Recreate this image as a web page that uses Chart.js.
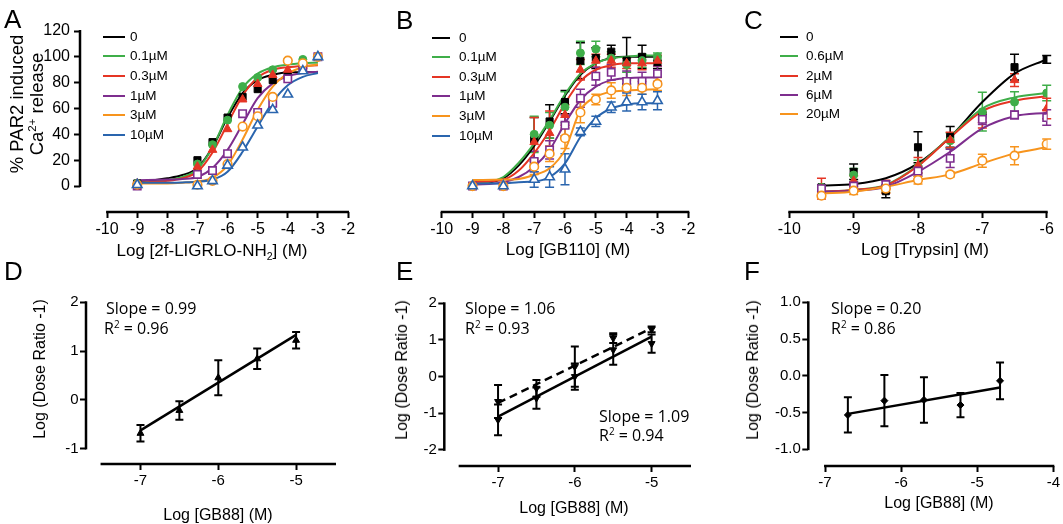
<!DOCTYPE html>
<html>
<head>
<meta charset="utf-8">
<script src="https://cdn.jsdelivr.net/npm/chart.js@4.4.0/dist/chart.umd.min.js"></script>
<style>
  body { margin: 0; background: #fff; }
  #fig { position: relative; width: 1063px; height: 524px; overflow: hidden; background: #fff;
         font-family: "Liberation Sans", Arial, sans-serif; color: #000; }
  #fig canvas { position: absolute; }
  .t { position: absolute; white-space: nowrap; line-height: 1; }
  .letter { font-size: 26px; }
  .ttl { font-size: 17px; }
  .ttl2 { font-size: 16px; }
  .ann { font-family: "Open Sans", sans-serif; font-size: 16px; }
  .leg { font-size: 13.5px; }
  .legline { position: absolute; height: 2px; }
  sup, sub { font-size: 0.62em; line-height: 0; }
</style>
</head>
<body>
<div id="fig"></div>
<script>
// ---------- data ----------

// A: 2f-LIGRLO-NH2 response curves
const legendA = ['0', '0.1µM', '0.3µM', '1µM', '3µM', '10µM'];
const doseA = [-9, -7, -6.5, -6, -5.5, -5, -4.5, -4, -3.5, -3];
const respA0  = [2, 20, 34, 53, 69, 75, 82, 85, 90, 100];
const respA01 = [2, 17, 32, 51, 77, 84, 90, 97, 98, 100];
const respA03 = [2, 15, 28, 44, 67, 79, 86, 90, 93, 100];
const respA1  = [0, 9, 12, 25, 56, 57, 64, 83, 91, 100];
const respA3  = [1, 1, 4, 17, 46, 54, 69, 97, 95, 100];
const respA10 = [1, 0, 4, 16, 30, 47, 59, 71, 89, 100];
const fitDoseA = [-9, -8, -7.5, -7, -6.5, -6, -5.5, -5, -4.5, -4, -3.5, -3];
const fitA0  = [3, 6, 8.5, 14, 30, 53, 72, 82, 86, 88, 88, 88];
const fitA01 = [2.5, 4.5, 7, 13, 30, 55, 76, 87, 92, 94, 95, 95.5];
const fitA03 = [2.5, 4, 6, 11, 26, 48, 70, 84, 90, 92, 93, 93.5];
const fitA1  = [4.5, 5, 5.5, 7, 14, 28, 48, 68, 79.5, 85, 87.5, 88.5];
const fitA3  = [2, 2, 2.5, 3.5, 6.5, 16, 36, 59, 77, 87, 92, 94];
const fitA10 = [2.5, 2.6, 2.8, 3.3, 5, 11, 26.5, 46, 65, 78, 84.5, 87.5];

// B: GB110 response curves
const legendB = ['0', '0.1µM', '0.3µM', '1µM', '3µM', '10µM'];
const doseB = [-9, -8, -7, -6.5, -6, -5.5, -5, -4.5, -4, -3.5, -3];
const respB0  = [0, 0, 36, 50, 65, 97, 99, 104, 97, 100, 96];
const respB01 = [0, 0, 40, 47, 61, 103, 106, 99, 94, 97, 100];
const respB03 = [0, 0, 34, 41, 55, 90, 97, 97, 95, 95, 97];
const respB1  = [0, 0, 19, 28, 47, 68, 85, 88, 81, 81, 87];
const respB3  = [0, 0, 15, 25, 37, 57, 67, 74, 76, 76, 79];
const respB10 = [0, 0, 5, 7, 13, 42, 50, 61, 65, 65, 66];
const errB0  = [0, 0, 17, 13, 9, 14, 8, 5, 18, 9, 5];
const errB01 = [0, 0, 14, 10, 12, 9, 6, 5, 6, 5, 3];
const errB03 = [0, 0, 19, 17, 8, 8, 5, 5, 4, 5, 4];
const errB1  = [0, 0, 8, 7, 8, 7, 7, 6, 8, 7, 6];
const errB3  = [0, 0, 6, 6, 8, 8, 4, 6, 6, 5, 5];
const errB10 = [0, 0, 6, 8, 12, 3, 4, 4, 7, 6, 7];
const fitDoseB = [-9, -8, -7.5, -7, -6.5, -6, -5.5, -5, -4.5, -4, -3.5, -3];
const fitB0  = [1, 6, 16, 31, 50, 70, 86, 95, 99, 100, 100, 100];
const fitB01 = [1, 7, 18, 33, 51, 71, 87, 95, 99, 100, 101, 101];
const fitB03 = [3, 5, 12, 25.5, 43, 64, 81, 90, 93.5, 95, 95, 95];
const fitB1  = [1, 3, 7, 15, 28, 48.5, 66.6, 77, 82, 83.5, 84, 84];
const fitB3  = [4.6, 5, 5.5, 8.5, 13.7, 28, 58.8, 69, 73, 74, 74.5, 75];
const fitB10 = [2, 2, 3, 3.5, 7, 17.6, 38, 52.6, 60, 63, 64, 64];

// C: trypsin response curves
const legendC = ['0', '0.6µM', '2µM', '6µM', '20µM'];
const doseC = [-9.5, -9, -8.5, -8, -7.5, -7, -6.5, -6];
const respC0  = [-1, 11, -4, 30, 38, 55, 92, 98];
const respC06 = [-1, 8.5, -2, 15, 35, 57.5, 65, 72];
const respC2  = [-2, 4, -0.5, 16, 35.6, 51, 82, 60];
const respC6  = [-2, 0, 1, 11.6, 21.4, 51.6, 55, 53];
const respC20 = [-7.5, -3.6, -2, 4.6, 9, 19.6, 23.5, 32.5];
const errC0  = [0, 6, 5, 12, 8, 0, 10, 3];
const errC06 = [0, 5, 3, 5, 6, 15, 8, 6];
const errC2  = [8, 4, 5, 6, 6, 6, 5, 8];
const errC6  = [3, 3, 3, 4, 7, 4, 3, 6];
const errC20 = [2, 3, 3, 3, 2, 5, 7, 4];
const fitDoseC = [-9.5, -9, -8.5, -8, -7.5, -7, -6.5, -6];
const fitC0  = [0.3, 1.5, 6, 17.5, 38, 65, 87, 98];
const fitC06 = [-4.4, -3, 0.8, 16, 38, 60, 68.6, 72];
const fitC2  = [-4.5, -3, 0.5, 15.5, 37.5, 58, 66, 69.5];
const fitC6  = [-4.4, -3.6, -0.5, 11, 26.5, 44.6, 54, 56.7];
const fitC20 = [-5.6, -4.4, -0.5, 4.6, 9, 17.5, 25.3, 30];

// D, E, F: Schild-type plots
const doseD = [-7, -6.5, -6, -5.5, -5];
const ratioD = [-0.69, -0.22, 0.45, 0.84, 1.22];
const errD = [0.17, 0.19, 0.36, 0.21, 0.17];
const lineXD = [-7, -5];
const lineYD = [-0.63, 1.33];

const doseE = [-7, -6.5, -6, -5.5, -5];
const ratioE1 = [-0.68, -0.32, 0.27, 1.05, 1.29];   // dashed fit
const errE1 = [0.45, 0.23, 0.55, 0.13, 0.08];
const ratioE2 = [-1.18, -0.59, 0.0, 0.73, 0.9];     // solid fit
const errE2 = [0.42, 0.29, 0.36, 0.41, 0.25];
const lineXE = [-7, -5];
const lineYE1 = [-0.72, 1.32];
const lineYE2 = [-1.09, 1.09];

const doseF = [-6.7, -6.22, -5.7, -5.22, -4.7];
const ratioF = [-0.535, -0.34, -0.33, -0.4, -0.07];
const errF = [0.24, 0.35, 0.31, 0.165, 0.25];
const lineXF = [-6.7, -4.7];
const lineYF = [-0.52, -0.16];

// tick labels
const ticksTopY = [0, 20, 40, 60, 80, 100, 120];
const ticksAB_X = [-10, -9, -8, -7, -6, -5, -4, -3, -2];
const ticksC_X = [-10, -9, -8, -7, -6];
const ticksDE_X = [-7, -6, -5];
const ticksD_Y = [-1, 0, 1, 2];
const ticksE_Y = [-2, -1, 0, 1, 2];
const ticksF_X = [-7, -6, -5, -4];
const ticksF_Y = [-1, -0.5, 0, 0.5, 1];

// ---------- styles ----------
const colors6 = ['#000000', '#3fae49', '#e53524', '#7e2e8e', '#f7941d', '#2a65ae'];
const marks6 = [
  { s: 'rect', r: 5, open: false },
  { s: 'circle', r: 4, open: false },
  { s: 'triangle', r: 5, open: false },
  { s: 'rect', r: 5.2, open: true },
  { s: 'circle', r: 4.3, open: true },
  { s: 'triangle', r: 5.5, open: true }
];

const fig = document.getElementById('fig');
Chart.defaults.font.family = '"Liberation Sans", Arial, sans-serif';
Chart.defaults.color = '#000';

function pts(xs, ys) { return xs.map((x, i) => ({ x: x, y: ys[i] })); }

// axis lines that stop at the first and last tick, like the original
const axisLines = {
  id: 'axisLines',
  afterDraw(chart, args, o) {
    const ctx = chart.ctx, a = chart.chartArea, sx = chart.scales.x, sy = chart.scales.y;
    ctx.save();
    ctx.strokeStyle = '#000';
    ctx.lineWidth = o.w;
    if (o.x) {
      ctx.beginPath();
      ctx.moveTo(sx.getPixelForValue(o.x[0]) - 1, a.bottom);
      ctx.lineTo(sx.getPixelForValue(o.x[1]) + 1, a.bottom);
      ctx.stroke();
    }
    if (o.y) {
      ctx.beginPath();
      ctx.moveTo(a.left, sy.getPixelForValue(o.y[0]) + 1);
      ctx.lineTo(a.left, sy.getPixelForValue(o.y[1]) - 1);
      ctx.stroke();
    }
    ctx.restore();
  }
};

// error bars from dataset.errors
const errorBars = {
  id: 'errorBars',
  beforeDatasetsDraw(chart, args, o) {
    const ctx = chart.ctx, sy = chart.scales.y;
    ctx.save();
    ctx.lineWidth = o.w;
    chart.data.datasets.forEach((ds, i) => {
      if (!ds.errors) return;
      const meta = chart.getDatasetMeta(i);
      ctx.strokeStyle = ds.borderColor;
      meta.data.forEach((el, j) => {
        const e = ds.errors[j];
        if (!e) return;
        const v = ds.data[j].y;
        const y1 = sy.getPixelForValue(v + e), y2 = sy.getPixelForValue(v - e);
        ctx.beginPath();
        ctx.moveTo(el.x, y1); ctx.lineTo(el.x, y2);
        ctx.moveTo(el.x - o.cap, y1); ctx.lineTo(el.x + o.cap, y1);
        ctx.moveTo(el.x - o.cap, y2); ctx.lineTo(el.x + o.cap, y2);
        ctx.stroke();
      });
    });
    ctx.restore();
  }
};

// later series are drawn on top, as in the original
function curveSets(dose, resps, errs, fitDose, fits, cols, marks) {
  const sets = [];
  resps.forEach((r, i) => {
    const m = marks[i];
    sets.push({
      data: pts(dose, r), showLine: false, order: 10 - i,
      pointStyle: m.s, pointRadius: m.r, borderWidth: m.open ? 1.6 : 1,
      borderColor: cols[i], backgroundColor: m.open ? '#ffffff' : cols[i],
      errors: errs ? errs[i] : null
    });
    sets.push({
      data: pts(fitDose, fits[i]), showLine: true, order: 30 - i, pointRadius: 0,
      borderColor: cols[i], borderWidth: 2, cubicInterpolationMode: 'monotone'
    });
  });
  return sets;
}

function panel(box, area, c) {
  const cv = document.createElement('canvas');
  cv.width = box.w; cv.height = box.h;
  cv.style.left = box.x + 'px'; cv.style.top = box.y + 'px';
  fig.appendChild(cv);
  const tickFont = { size: c.fs };
  new Chart(cv, {
    type: 'scatter',
    data: { datasets: c.datasets },
    options: {
      responsive: false, animation: false, events: [],
      layout: { padding: { left: 0, top: area.t - box.y, right: box.x + box.w - area.r, bottom: 0 } },
      plugins: {
        legend: { display: false }, tooltip: { enabled: false },
        axisLines: { x: c.xLine, y: c.yLine, w: 2.5 },
        errorBars: { w: c.ew, cap: c.cap }
      },
      scales: {
        x: {
          type: 'linear', min: c.xr[0], max: c.xr[1],
          afterBuildTicks: s => { s.ticks = c.xTicks.map(v => ({ value: v })); },
          afterFit: s => { s.height = box.y + box.h - area.b; },
          ticks: { font: tickFont, padding: c.xpad, maxRotation: 0, minRotation: 0, autoSkip: false,
                   callback: v => String(v) },
          grid: { drawOnChartArea: false, drawTicks: true, tickLength: 6, tickWidth: 2, tickColor: '#000' },
          border: { display: false }
        },
        y: {
          type: 'linear', min: c.yr[0], max: c.yr[1],
          afterBuildTicks: s => { s.ticks = (c.yTicks || []).map(v => ({ value: v })); },
          afterFit: s => { s.width = area.l - box.x; },
          ticks: { display: !!c.yTicks, font: tickFont, padding: c.ypad, autoSkip: false,
                   callback: c.yFmt || (v => String(v)) },
          grid: { display: !!c.yTicks, drawOnChartArea: false, drawTicks: true, tickLength: 6, tickWidth: 2, tickColor: '#000' },
          border: { display: false }
        }
      }
    },
    plugins: [axisLines, errorBars]
  });
}

// ---------- top row ----------
panel({ x: 0, y: 0, w: 372, h: 268 }, { l: 80, t: 31, r: 348, b: 212 }, {
  datasets: curveSets(doseA, [respA0, respA01, respA03, respA1, respA3, respA10], null,
                      fitDoseA, [fitA0, fitA01, fitA03, fitA1, fitA3, fitA10], colors6, marks6),
  xr: [-10.9, -2], yr: [-20.1, 120], xTicks: ticksAB_X, yTicks: ticksTopY,
  xLine: [-10, -2], yLine: [0, 120], fs: 16, xpad: 2.4, ypad: 4, ew: 1.5, cap: 4.5
});

panel({ x: 380, y: 0, w: 330, h: 268 }, { l: 441.7, t: 31, r: 688.3, b: 212 }, {
  datasets: curveSets(doseB, [respB0, respB01, respB03, respB1, respB3, respB10],
                      [errB0, errB01, errB03, errB1, errB3, errB10],
                      fitDoseB, [fitB0, fitB01, fitB03, fitB1, fitB3, fitB10], colors6, marks6),
  xr: [-10, -2], yr: [-20.1, 120], xTicks: ticksAB_X, yTicks: null,
  xLine: [-10, -2], yLine: null, fs: 16, xpad: 2.4, ypad: 4, ew: 1.5, cap: 4.5
});

panel({ x: 720, y: 0, w: 343, h: 268 }, { l: 789.3, t: 31, r: 1046.7, b: 212 }, {
  datasets: curveSets(doseC, [respC0, respC06, respC2, respC6, respC20],
                      [errC0, errC06, errC2, errC6, errC20],
                      fitDoseC, [fitC0, fitC06, fitC2, fitC6, fitC20], colors6, marks6),
  xr: [-10, -6], yr: [-20.1, 120], xTicks: ticksC_X, yTicks: null,
  xLine: [-10, -6], yLine: null, fs: 16, xpad: 2.4, ypad: 4, ew: 1.5, cap: 4.5
});

// ---------- bottom row ----------
function schildSets(dose, ys, errs, lx, ly, rot, dash) {
  return [
    { data: pts(dose, ys), showLine: false, order: 1, pointStyle: 'triangle', rotation: rot,
      pointRadius: 4, borderColor: '#000', backgroundColor: '#000', borderWidth: 1, errors: errs },
    { data: pts(lx, ly), showLine: true, order: 2, pointRadius: 0, borderColor: '#000',
      borderWidth: 2.5, borderDash: dash }
  ];
}

panel({ x: 0, y: 268, w: 372, h: 256 }, { l: 86, t: 302.3, r: 335, b: 464 }, {
  datasets: schildSets(doseD, ratioD, errD, lineXD, lineYD, 0, []),
  xr: [-7.7, -4.5], yr: [-1.32, 2], xTicks: ticksDE_X, yTicks: ticksD_Y,
  xLine: [-7.5, -4.5], yLine: [-1, 2], fs: 15, xpad: 1.5, ypad: 1.5, ew: 2, cap: 4
});

panel({ x: 372, y: 268, w: 340, h: 256 }, { l: 444.3, t: 303.3, r: 690, b: 466 }, {
  datasets: schildSets(doseE, ratioE1, errE1, lineXE, lineYE1, 180, [8, 5])
              .concat(schildSets(doseE, ratioE2, errE2, lineXE, lineYE2, 180, [])),
  xr: [-7.7, -4.5], yr: [-2.44, 2], xTicks: ticksDE_X, yTicks: ticksE_Y,
  xLine: [-7.5, -4.5], yLine: [-2, 2], fs: 15, xpad: 1.5, ypad: 1.5, ew: 2, cap: 4
});

const setsF = schildSets(doseF, ratioF, errF, lineXF, lineYF, 0, []);
setsF[0].pointStyle = 'rectRot';
setsF[0].pointRadius = 3.5;
panel({ x: 712, y: 268, w: 351, h: 256 }, { l: 808.3, t: 302.3, r: 1053.3, b: 466 }, {
  datasets: setsF,
  xr: [-7.22, -4], yr: [-1.23, 1], xTicks: ticksF_X, yTicks: ticksF_Y,
  xLine: [-7, -4], yLine: [-1, 1], fs: 15, xpad: 1.5, ypad: 1.5, ew: 2, cap: 4,
  yFmt: v => v.toFixed(1)
});

// ---------- text ----------
function txt(html, x, y, cls, mode) {
  const d = document.createElement('div');
  d.className = 't ' + cls;
  d.innerHTML = html;
  d.style.left = x + 'px';
  d.style.top = y + 'px';
  if (mode === 'c') d.style.transform = 'translate(-50%,-50%)';
  else if (mode === 'v') d.style.transform = 'translate(-50%,-50%) rotate(-90deg)';
  else if (mode === 'l') d.style.transform = 'translateY(-50%)';
  fig.appendChild(d);
  return d;
}

[['A', 4, 6], ['B', 396, 6.6], ['C', 744, 6.6], ['D', 4, 257.6], ['E', 396, 257.6], ['F', 744, 257.6]]
  .forEach(p => txt(p[0], p[1], p[2], 'letter'));

function legend(names, x1, x2, tx, ys) {
  names.forEach((n, i) => {
    const l = document.createElement('div');
    l.className = 'legline';
    l.style.left = x1 + 'px'; l.style.width = (x2 - x1) + 'px';
    l.style.top = (ys[i] - 1) + 'px'; l.style.background = colors6[i];
    fig.appendChild(l);
    txt(n, tx, ys[i], 'leg', 'l');
  });
}
legend(legendA, 103, 125, 130, [36.7, 56, 76, 95.7, 115, 135]);
legend(legendB, 432, 450, 459, [37.7, 57, 76.7, 96, 116, 136]);
legend(legendC, 780, 798, 806, [37, 56, 76, 95, 114]);

const yA = txt('% PAR2 induced<br>Ca<sup>2+</sup> release', 26.7, 104, 'ttl', 'v');
yA.style.fontSize = '18.5px'; yA.style.lineHeight = '20px'; yA.style.textAlign = 'center';
txt('Log [2f-LIGRLO-NH<sub>2</sub>] (M)', 212, 250, 'ttl', 'c');
txt('Log [GB110] (M)', 568, 249, 'ttl', 'c');
txt('Log [Trypsin] (M)', 925, 249, 'ttl', 'c');

txt('Log (Dose Ratio -1)', 40, 369, 'ttl2', 'v');
txt('Log (Dose Ratio -1)', 401.7, 370, 'ttl2', 'v');
txt('Log (Dose Ratio -1)', 753.3, 370, 'ttl2', 'v');
txt('Log [GB88] (M)', 218, 515, 'ttl2', 'c');
txt('Log [GB88] (M)', 574, 508, 'ttl2', 'c');
txt('Log [GB88] (M)', 939, 503, 'ttl2', 'c');

txt('Slope = 0.99', 106, 308, 'ann', 'l');
txt('R<sup>2</sup> = 0.96', 104, 328, 'ann', 'l');
txt('Slope = 1.06', 465, 308, 'ann', 'l');
txt('R<sup>2</sup> = 0.93', 465, 328, 'ann', 'l');
txt('Slope = 1.09', 599, 416, 'ann', 'l');
txt('R<sup>2</sup> = 0.94', 599, 435, 'ann', 'l');
txt('Slope = 0.20', 831, 308, 'ann', 'l');
txt('R<sup>2</sup> = 0.86', 831, 328, 'ann', 'l');
</script>
</body>
</html>
